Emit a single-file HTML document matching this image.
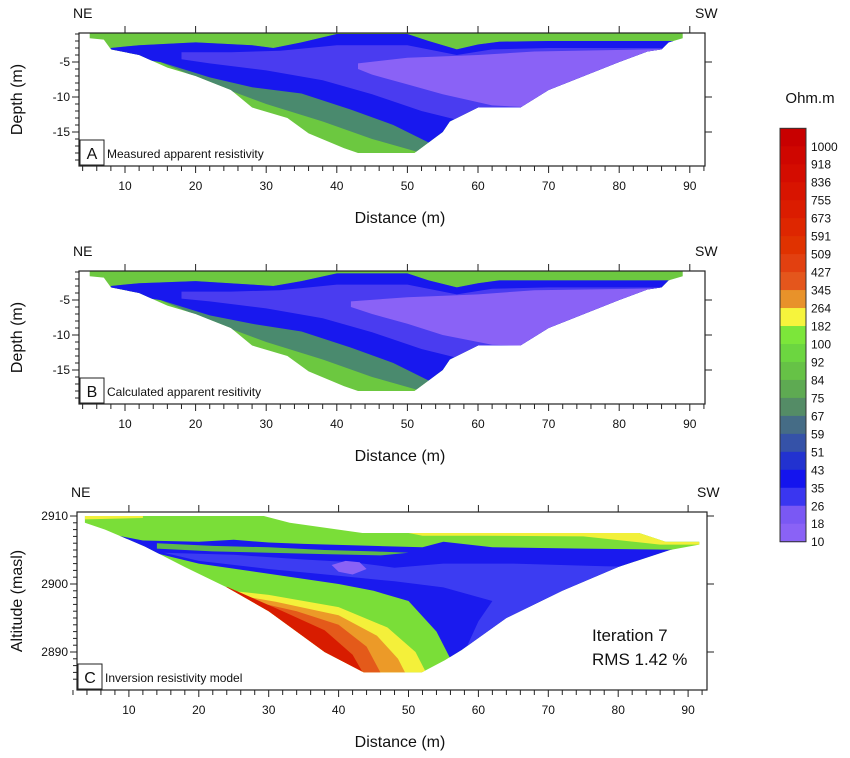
<!DOCTYPE html>
<html><head><meta charset="utf-8">
<style>
html,body{margin:0;padding:0;background:#fff;}
svg{display:block;font-family:"Liberation Sans",sans-serif;}
</style></head>
<body>
<svg id="fig" width="850" height="758" viewBox="0 0 850 758" xmlns="http://www.w3.org/2000/svg"></svg>
<script>
// ---------- data (distance m, depth m) ----------
const xTicks = [10,20,30,40,50,60,70,80,90];
const depthTicks = [-5,-10,-15];
const altTicks = [2910,2900,2890];
const cbLabels = ["1000","918","836","755","673","591","509","427","345","264","182","100","92","84","75","67","59","51","43","35","26","18","10"];
const cbColors = ["#c80000","#cf0600","#d40c00","#d81400","#db1c00","#de2600","#e03200","#e24010","#e4561c","#e8922a","#f6f43c","#7ce63a","#6cd640","#66c246","#5eaa52","#548c66","#456c86","#3552a8","#2232d0","#1414ee","#3a36f0","#7a58f4","#8a62f6"];

// Panel A polygons
const outlineA = [[5,-0.9],[89,-0.9],[89,-1.6],[87,-2.2],[86,-3.2],[84,-3.5],[80,-5],[75,-7],[70,-9],[66,-11.5],[60,-11.5],[56,-13.5],[55,-15],[53,-16.5],[51,-18],[43,-18],[41,-17.3],[36,-15.2],[33,-13],[28,-11.5],[25,-9],[22,-7.8],[20,-7],[16,-5.8],[12,-4],[8,-3.2],[7,-1.8],[5,-1.6]];
const tealA = [[8,-3],[12,-2.6],[20,-2.2],[28,-2.6],[31,-3],[35,-2.2],[40,-1],[50,-1],[53,-2],[57,-3.2],[60,-2.5],[63,-2.1],[70,-2],[95,-2],[95,-20],[56,-20],[52,-18],[45,-16],[38,-13.5],[30,-11],[22,-8],[15,-5],[8,-4]];
const blueA = [[8,-3],[12,-2.6],[20,-2.2],[28,-2.6],[31,-3],[35,-2.2],[40,-1],[50,-1],[53,-2],[57,-3.2],[60,-2.5],[63,-2.1],[70,-2],[95,-2],[95,-20],[57,-18],[53,-16.5],[48,-14],[42,-11.8],[35,-9.5],[28,-8.6],[22,-7.2],[15,-5],[8,-4]];
const midA = [[18,-3.6],[25,-3.6],[32,-3.4],[40,-2.6],[50,-2.6],[57,-4],[62,-3.2],[70,-3],[95,-3],[95,-20],[60,-14],[52,-12],[45,-9.6],[38,-7.6],[30,-6.2],[22,-5.2],[18,-4.6]];
const lavA = [[43,-5.2],[50,-4.4],[60,-4],[68,-3.5],[95,-3],[95,-12],[70,-11.6],[62,-11.2],[55,-9.6],[50,-8.2],[45,-6.8],[43,-6]];

// Panel B polygons
const outlineB = outlineA;
const tealB = [[8,-3],[12,-2.6],[20,-2.3],[28,-2.8],[31,-3],[35,-2.3],[40,-1.2],[50,-1.2],[53,-2.2],[57,-3.2],[60,-2.6],[63,-2.2],[70,-2.2],[95,-2.2],[95,-20],[56,-20],[52,-18],[45,-16],[38,-13.5],[30,-11],[22,-8],[15,-5],[8,-4]];
const blueB = [[8,-3],[12,-2.6],[20,-2.3],[28,-2.8],[31,-3],[35,-2.3],[40,-1.2],[50,-1.2],[53,-2.2],[57,-3.2],[60,-2.6],[63,-2.2],[70,-2.2],[95,-2.2],[95,-20],[57,-18],[53,-16.5],[48,-14],[42,-11.8],[35,-9.5],[28,-8.4],[22,-7.2],[15,-5],[8,-4]];
const midB = [[18,-3.8],[25,-3.8],[32,-3.6],[40,-2.8],[50,-2.8],[57,-4.2],[62,-3.4],[70,-3.2],[95,-3.2],[95,-20],[60,-14],[52,-12],[45,-9.6],[38,-7.6],[30,-6.2],[22,-5.2],[18,-4.8]];
const lavB = [[42,-5.2],[50,-4.6],[60,-4.2],[68,-3.6],[95,-3.2],[95,-12],[70,-11.6],[62,-11.4],[55,-10],[50,-8.4],[45,-7],[42,-6]];

// Panel C polygons (distance m, altitude masl)
const outlineC = [[3.7,2910],[29.3,2910],[33,2909],[43.4,2907.5],[83,2907.5],[86.8,2906.2],[91.6,2906.2],[91.6,2905.8],[87.4,2905],[80,2902.5],[72,2899],[64,2895],[57.6,2890.3],[55.2,2888.8],[51.9,2887],[43.6,2887],[38,2890],[30,2896],[24,2899.5],[18,2902.5],[12.3,2905.5],[6.6,2908],[3.7,2909]];
const blueC = [[6,2907.6],[12,2906.4],[20,2906.2],[25,2906.5],[30,2906.1],[35,2905.9],[45,2905.6],[52,2905.4],[55,2906.2],[62,2905.4],[75,2905.2],[92,2905],[95,2880],[60,2884],[56,2889],[54,2893],[50,2897.5],[45,2899],[40,2900],[30,2901.5],[20,2903],[12,2905]];
const greenBandC = [[14,2906],[22,2905.6],[30,2905.4],[38,2905],[45,2904.8],[50,2904.6],[46,2904.2],[38,2904.4],[30,2904.6],[22,2904.8],[14,2905.2]];
const midC = [[15,2904.6],[25,2904.3],[35,2903.6],[42,2903.2],[48,2902.4],[55,2903],[65,2903],[78,2902.6],[88,2902.4],[80,2899],[70,2896.8],[62,2892.5],[58,2890],[60,2894.5],[62,2897.5],[55,2899.5],[48,2900.4],[40,2901.2],[30,2902.2],[20,2903.4]];
const lavC = [[39,2902.8],[41,2903.4],[43,2903.2],[44,2902.2],[42,2901.4],[40,2901.8]];
const yellowTopC = [[3.7,2910],[12,2910],[12,2909.7],[3.7,2909.5]];
const yellowRightC = [[50,2907.5],[83,2907.5],[86.8,2906.2],[91.6,2906.2],[91.6,2905.8],[86,2905.8],[75,2907],[60,2907.1],[52,2907.1]];
const yellowC = [[14,2900.5],[22,2899.3],[30,2898.4],[40,2896.6],[47,2893.6],[51,2890],[53,2886],[10,2880]];
const orangeC = [[16,2900],[24,2898.6],[31,2897.4],[40,2895.4],[45.5,2892.4],[48.5,2889],[50,2886],[10,2880]];
const orange2C = [[20,2899.6],[28,2897.4],[34,2896],[40,2894],[44,2890.8],[46.5,2886],[10,2880]];
const redC = [[24,2899.6],[32,2896],[38,2893.2],[42,2889.6],[44,2886],[10,2880]];

// ---------- helpers ----------
const NS = "http://www.w3.org/2000/svg";
const svg = document.getElementById('fig');
function el(tag, attrs, parent){ const e=document.createElementNS(NS,tag); for(const k in attrs) e.setAttribute(k,attrs[k]); (parent||svg).appendChild(e); return e; }
function txt(str, attrs, parent){ const t=el('text',attrs,parent); t.textContent=str; return t; }
function poly(pts, X, Y, fill, clip, parent, name){
  const p = el('polygon',{points:pts.map(q=>X(q[0]).toFixed(1)+','+Y(q[1]).toFixed(1)).join(' '),fill:fill}, parent);
  if(clip) p.setAttribute('clip-path','url(#'+clip+')');
  
  
  return p;
}

// ---------- generic panel ----------
function panel(cfg){
  const g = el('g',{});
  
  
  const {X,Y,L,R,T,B} = cfg;
  const cp = el('clipPath',{id:cfg.clip},g);
  el('polygon',{points:cfg.outline.map(q=>X(q[0]).toFixed(1)+','+Y(q[1]).toFixed(1)).join(' ')},cp);
  poly(cfg.outline,X,Y,cfg.base,null,g,'section-base');
  cfg.layers.forEach(ly=>poly(ly[0],X,Y,ly[1],cfg.clip,g,ly[2]));
  const fr = el('rect',{x:L,y:T,width:R-L,height:B-T,fill:'none',stroke:'#222','stroke-width':1.2},g);
  
  
  for(let d=cfg.xMinor0; d<=cfg.xMinor1; d+=2){
    const major = d%10===0;
    el('line',{x1:X(d),x2:X(d),y1:B,y2:B+(major?7:5),stroke:'#222','stroke-width':1},g);
  }
  xTicks.forEach(d=>{
    el('line',{x1:X(d),x2:X(d),y1:T,y2:T-7,stroke:'#222','stroke-width':1},g);
    const t = txt(String(d),{x:X(d),y:B+24,'font-size':12,'text-anchor':'middle',fill:'#111'},g);
    
    
  });
  for(let v=cfg.yMinor0; v>=cfg.yMinor1; v-=1){
    const yy = Y(v); if(yy<T||yy>B) continue;
    el('line',{x1:L,x2:L-4,y1:yy,y2:yy,stroke:'#222','stroke-width':1},g);
  }
  cfg.yTicks.forEach(v=>{
    el('line',{x1:L,x2:L-7,y1:Y(v),y2:Y(v),stroke:'#222','stroke-width':1},g);
    el('line',{x1:R,x2:R+7,y1:Y(v),y2:Y(v),stroke:'#222','stroke-width':1},g);
    const t = txt(String(v),{x:L-9,y:Y(v)+4,'font-size':12,'text-anchor':'end',fill:'#111'},g);
    
    
  });
  const ne = txt('NE',{x:L-6,y:T-15,'font-size':14,fill:'#111'},g);
   
  const sw = txt('SW',{x:R-10,y:T-15,'font-size':14,fill:'#111'},g);
   
  const xt = txt('Distance (m)',{x:400,y:B+57,'font-size':16,'text-anchor':'middle',fill:'#111'},g);
   
  const cy=(T+B)/2;
  const yt = txt(cfg.ytitle,{x:22,y:cy,'font-size':16,'text-anchor':'middle',fill:'#111',transform:'rotate(-90 22 '+cy+')'},g);
   
  const bx = el('rect',{x:L+1,y:B-26,width:24,height:25,fill:'#fff',stroke:'#222','stroke-width':1},g);
   
  txt(cfg.letter,{x:L+13,y:B-7,'font-size':16,'text-anchor':'middle',fill:'#111'},g);
  const ct = txt(cfg.caption,{x:L+28,y:B-8,'font-size':12,fill:'#111'},g);
   
  return g;
}

const XA = d=>54.4+7.06*d, YA = z=>27-7*z;
panel({name:'panel-a-measured',clip:'clipA',X:XA,Y:YA,L:79,R:705,T:33,B:166,outline:outlineA,base:'#6cc840',
  layers:[[tealA,'#4a8a6e','teal-zone'],[blueA,'#1818ee','dark-blue-zone'],[midA,'#4a3cf0','mid-blue-zone'],[lavA,'#8a62f6','lavender-zone']],
  xMinor0:4,xMinor1:92,yMinor0:-1,yMinor1:-19,yTicks:depthTicks,ytitle:'Depth (m)',letter:'A',caption:'Measured apparent resistivity'});
const XB = d=>54.4+7.06*d, YB = z=>265-7*z;
panel({name:'panel-b-calculated',clip:'clipB',X:XB,Y:YB,L:79,R:705,T:271,B:404,outline:outlineB,base:'#6cc840',
  layers:[[tealB,'#4a8a6e','teal-zone'],[blueB,'#1818ee','dark-blue-zone'],[midB,'#4a3cf0','mid-blue-zone'],[lavB,'#8a62f6','lavender-zone']],
  xMinor0:4,xMinor1:92,yMinor0:-1,yMinor1:-19,yTicks:depthTicks,ytitle:'Depth (m)',letter:'B',caption:'Calculated apparent resitivity'});
const XC = d=>59+6.99*d, YC = a=>516+(2910-a)*6.8;
panel({name:'panel-c-inversion',clip:'clipC',X:XC,Y:YC,L:77,R:707,T:512,B:690,outline:outlineC,base:'#7ade38',
  layers:[[blueC,'#1a1aee','blue-zone'],[greenBandC,'#5eb84a','green-band'],[midC,'#3c3cf2','mid-blue-zone'],[lavC,'#8a62f6','lavender-blob'],
          [yellowTopC,'#f2f03a','yellow-top'],[yellowRightC,'#f2f03a','yellow-right'],
          [yellowC,'#f4f03a','yellow-zone'],[orangeC,'#ec9a28','orange-zone'],[orange2C,'#e45a1a','orange-red-zone'],[redC,'#d81c00','red-zone']],
  xMinor0:2,xMinor1:92,yMinor0:2910,yMinor1:2886,yTicks:altTicks,ytitle:'Altitude (masl)',letter:'C',caption:'Inversion resistivity model'});
const it = txt('Iteration 7',{x:592,y:641,'font-size':17,fill:'#111'});
 
const rm = txt('RMS 1.42 %',{x:592,y:665,'font-size':17,fill:'#111'});
 

const cb = el('g',{});


const cbTop=128.3, cbBot=541.7, cbX=780, cbW=26, bh=(cbBot-cbTop)/cbColors.length;
cbColors.forEach((c,i)=>{
  const r = el('rect',{x:cbX,y:cbTop+i*bh,width:cbW,height:bh+0.5,fill:c},cb);
  
  
});
el('rect',{x:cbX,y:cbTop,width:cbW,height:cbBot-cbTop,fill:'none',stroke:'#333','stroke-width':1},cb);
cbLabels.forEach((s,i)=>{
  const t = txt(s,{x:cbX+cbW+5,y:cbTop+(i+1)*bh+4.5,'font-size':12,fill:'#111'},cb);
  
  
});
const ut = txt('Ohm.m',{x:810,y:103,'font-size':15,'text-anchor':'middle',fill:'#111'},cb);


</script>
</body></html>
